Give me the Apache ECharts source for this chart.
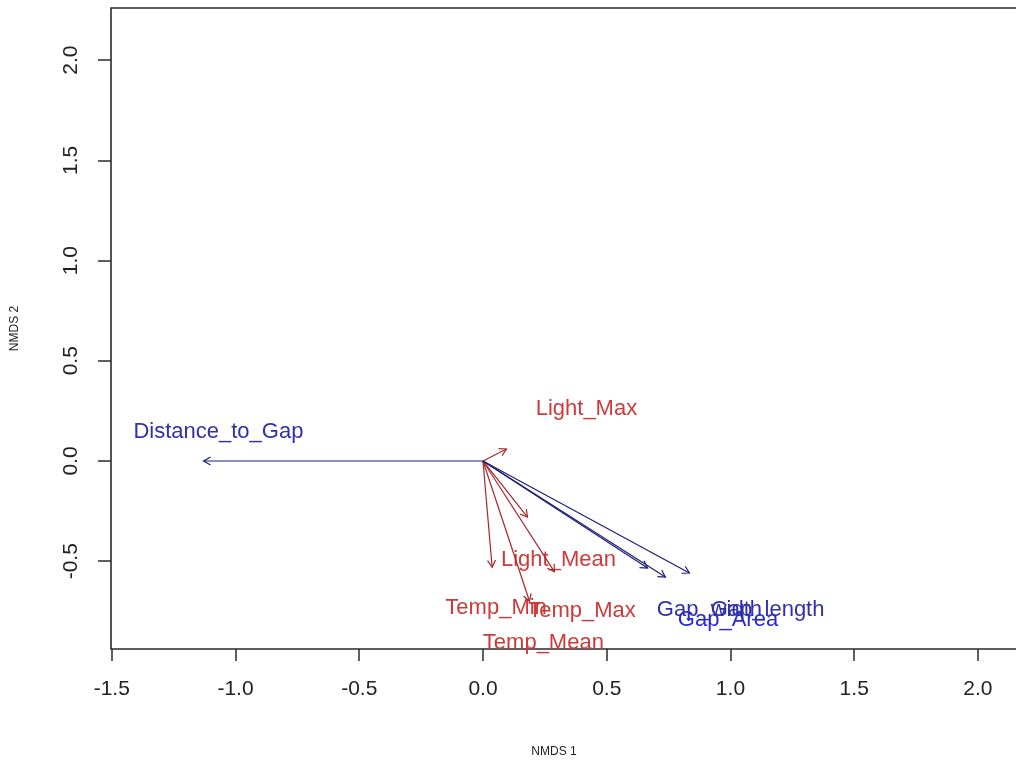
<!DOCTYPE html>
<html>
<head>
<meta charset="utf-8">
<script src="https://cdn.jsdelivr.net/npm/echarts@6/dist/echarts.min.js"></script>
<style>
  html, body { margin: 0; padding: 0; background: #fff; }
  #chart { width: 1016px; height: 762px; }
</style>
</head>
<body>
<div id="chart"></div>
<script>
// Fitted environmental vectors on the NMDS ordination
const vecNames = ['Distance_to_Gap', 'Light_Max', 'Light_Mean', 'Temp_Min', 'Temp_Max', 'Temp_Mean', 'Gap_width', 'Gap_Area', 'Gap_length'];
const vecGroup = ['gap', 'env', 'env', 'env', 'env', 'env', 'gap', 'gap', 'gap'];
const vecX = [-1.129, 0.095, 0.180, 0.037, 0.289, 0.188, 0.665, 0.737, 0.834];
const vecY = [0.000, 0.060, -0.280, -0.530, -0.553, -0.700, -0.534, -0.579, -0.559];
// label anchor points in ordination units
const labX = [-1.069, 0.418, 0.305, 0.053, 0.400, 0.244, 0.915, 0.990, 1.150];
const labY = [0.145, 0.260, -0.494, -0.733, -0.750, -0.910, -0.743, -0.793, -0.743];

const xTicks = [-1.5, -1.0, -0.5, 0.0, 0.5, 1.0, 1.5, 2.0];
const yTicks = [-0.5, 0.0, 0.5, 1.0, 1.5, 2.0];

const arrowColor = { env: '#a82828', gap: '#1e1e78' };
const textColor = { env: '#cc3a3a', gap: '#3030a8' };

const arrowData = vecX.map((x, i) => [x, vecY[i], vecGroup[i]]);
const labelData = labX.map((x, i) => [x, labY[i], vecNames[i], vecGroup[i]]);

const chart = echarts.init(document.getElementById('chart'), null, { renderer: 'canvas' });

chart.setOption({
  backgroundColor: '#ffffff',
  animation: false,
  // plot box runs past the right edge of the page
  grid: { left: 111, top: 8, width: 912, height: 641, outerBoundsMode: 'none', containLabel: false, show: true, borderColor: '#2a2a2a', borderWidth: 1.6, backgroundColor: 'transparent' },
  xAxis: {
    type: 'value', min: -1.503, max: 2.182,
    name: 'NMDS 1', nameLocation: 'middle', nameGap: 97,
    nameTextStyle: { fontFamily: 'Liberation Sans', fontSize: 12, color: '#222', padding: [0, 26, 0, 0] },
    axisLine: { show: false, onZero: false },
    splitLine: { show: false },
    axisTick: { show: true, inside: false, length: 12, customValues: xTicks, lineStyle: { color: '#2a2a2a', width: 1.5 } },
    axisLabel: { customValues: xTicks, margin: 30, fontFamily: 'Liberation Sans', fontSize: 21, color: '#222', formatter: v => v.toFixed(1) }
  },
  yAxis: {
    type: 'value', min: -0.938, max: 2.26,
    name: 'NMDS 2', nameLocation: 'middle', nameGap: 90, nameRotate: 90,
    nameTextStyle: { fontFamily: 'Liberation Sans', fontSize: 12, color: '#222', padding: [0, 0, 0, 0] },
    axisLine: { show: false, onZero: false },
    splitLine: { show: false },
    axisTick: { show: true, inside: false, length: 13, customValues: yTicks, lineStyle: { color: '#2a2a2a', width: 1.5 } },
    axisLabel: { customValues: yTicks, rotate: 90, margin: 29, fontFamily: 'Liberation Sans', fontSize: 21, color: '#222', formatter: v => v.toFixed(1) }
  },
  series: [
    {
      type: 'custom',
      name: 'labels',
      silent: true,
      clip: false,
      data: labelData,
      renderItem: (params, api) => {
        const p = api.coord([api.value(0), api.value(1)]);
        const row = labelData[params.dataIndex];
        return {
          type: 'text',
          x: p[0], y: p[1],
          style: {
            text: row[2],
            fill: row[2] === 'Gap_Area' ? '#2a2ad0' : textColor[row[3]],
            font: '22px "Liberation Sans", Arial, sans-serif',
            align: 'center', verticalAlign: 'middle'
          }
        };
      }
    },
    {
      type: 'custom',
      name: 'vectors',
      silent: true,
      data: arrowData,
      renderItem: (params, api) => {
        const o = api.coord([0, 0]);
        const e = api.coord([api.value(0), api.value(1)]);
        const c = arrowColor[arrowData[params.dataIndex][2]];
        const ang = Math.atan2(e[1] - o[1], e[0] - o[0]);
        const L = 8, a = Math.PI / 6;
        const p1 = [e[0] - L * Math.cos(ang - a), e[1] - L * Math.sin(ang - a)];
        const p2 = [e[0] - L * Math.cos(ang + a), e[1] - L * Math.sin(ang + a)];
        return {
          type: 'group',
          children: [
            { type: 'line', shape: { x1: o[0], y1: o[1], x2: e[0], y2: e[1] }, style: { stroke: c, lineWidth: 1.2 } },
            { type: 'polyline', shape: { points: [p1, e, p2] }, style: { stroke: c, fill: null, lineWidth: 1.2 } }
          ]
        };
      }
    }
  ]
});
</script>
</body>
</html>
